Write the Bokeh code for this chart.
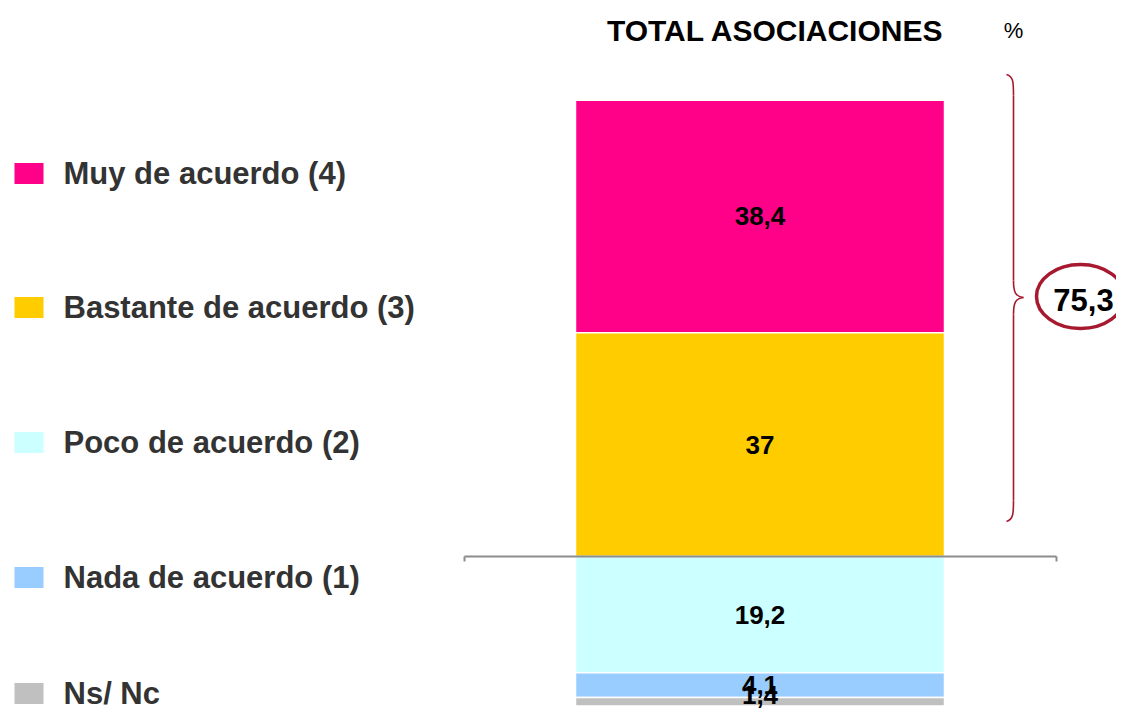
from bokeh.plotting import figure
from bokeh.models import Range1d, ColumnDataSource
from bokeh.core.properties import value
from bokeh.embed import file_html
from bokeh.resources import INLINE

# ---- data ----
categories = ["Muy de acuerdo (4)", "Bastante de acuerdo (3)", "Poco de acuerdo (2)",
              "Nada de acuerdo (1)", "Ns/ Nc"]
values = [38.4, 37.0, 19.2, 4.1, 1.4]
colors = ["#FF0088", "#FFCC00", "#CCFFFF", "#99CCFF", "#C0C0C0"]
positive = [True, True, False, False, False]
summary_value = 75.3
title_text = "TOTAL ASOCIACIONES"
unit_text = "%"

# ---- layout ----
W, H = 1116, 712
K = 6.05            # px per percentage point
BASE_SY = 556       # screen y of the zero line


def dy(sy):
    """screen y -> data y"""
    return (BASE_SY - sy) / K


def fmt(v):
    s = ("%.1f" % v).rstrip("0").rstrip(".")
    return s.replace(".", ",")


p = figure(width=W, height=H, output_backend="svg", toolbar_location=None,
           x_range=Range1d(0, W), y_range=Range1d(dy(H), dy(0)),
           x_axis_location=None, y_axis_location=None, min_border=0,
           title=None)
p.grid.visible = False
p.outline_line_color = None
p.background_fill_color = "white"

# stacked bar segments
pos_idx = [i for i, f in enumerate(positive) if f][::-1]
neg_idx = [i for i, f in enumerate(positive) if not f]
b = [0.0] * len(values)
t = [0.0] * len(values)
acc = 0.0
for i in pos_idx:
    b[i] = acc
    acc += values[i]
    t[i] = acc
acc = 0.0
for i in neg_idx:
    t[i] = acc
    acc -= values[i]
    b[i] = acc

bar_x0, bar_x1 = 575, 944
src = ColumnDataSource(dict(
    left=[bar_x0] * len(values), right=[bar_x1] * len(values),
    bottom=b, top=t, color=colors,
    ymid=[(bb + tt) / 2 for bb, tt in zip(b, t)],
    xmid=[(bar_x0 + bar_x1) / 2] * len(values),
    label=[fmt(v) for v in values],
    yoff=[0, 0, 0, 0, -7],
))
p.quad(left="left", right="right", bottom="bottom", top="top", source=src,
       fill_color="color", line_color="white", line_width=1.5)

p.text(x="xmid", y="ymid", text="label", source=src, y_offset="yoff",
       text_font=value("Liberation Sans"), text_font_style="bold",
       text_font_size="26px", text_color="black",
       text_align="center", text_baseline="middle")

# zero line with end ticks
p.line(x=[464, 1056], y=[0, 0], line_color="#8C8C8C", line_width=2)
p.segment(x0=[464, 1056], y0=[0, 0], x1=[464, 1056], y1=[dy(561), dy(561)],
          line_color="#8C8C8C", line_width=2)

# legend
leg_sy = [173, 307, 442, 577, 693]
leg_y = [dy(s) for s in leg_sy]
p.rect(x=[28.5] * 5, y=leg_y, width=29, height=21 / K, fill_color=colors,
       line_color=None)
p.text(x=[63] * 5, y=leg_y, text=categories,
       text_font=value("Liberation Sans"), text_font_style="bold",
       text_font_size="31px", text_color="#333333",
       text_align="left", text_baseline="middle")

# title
p.text(x=[775], y=[dy(30)], text=[title_text],
       text_font=value("Liberation Sans"), text_font_style="bold",
       text_font_size="30px", text_color="black",
       text_align="center", text_baseline="middle")
p.text(x=[1013], y=[dy(30)], text=[unit_text],
       text_font=value("Liberation Sans"),
       text_font_size="22px", text_color="black",
       text_align="center", text_baseline="middle")

# brace around the agreement part
red = "#A6192E"
bx, tipx = 1013, 1023
top_y, bot_y, tip_y = dy(74), dy(521), dy(297)
p.bezier(x0=[1006, bx, 1006, bx], y0=[top_y, dy(280), bot_y, dy(314)],
         x1=[bx, tipx, bx, tipx], y1=[dy(95), tip_y, dy(500), tip_y],
         cx0=[1013, bx, 1013, bx], cy0=[dy(76), dy(292), dy(519), dy(302)],
         cx1=[bx, bx + 2, bx, bx + 2], cy1=[dy(82), dy(296), dy(512), dy(298)],
         line_color=red, line_width=1.6)
p.segment(x0=[bx, bx], y0=[dy(95), dy(314)], x1=[bx, bx], y1=[dy(280), dy(500)],
          line_color=red, line_width=1.6)

# circled total
p.ellipse(x=[1080], y=[dy(296)], width=88, height=64 / K,
          fill_color=None, line_color=red, line_width=3.5)
p.text(x=[1083], y=[dy(299)], text=[fmt(summary_value)],
       text_font=value("Liberation Sans"), text_font_style="bold",
       text_font_size="31px", text_color="black",
       text_align="center", text_baseline="middle")

open("out.html", "w").write(file_html(p, INLINE))
